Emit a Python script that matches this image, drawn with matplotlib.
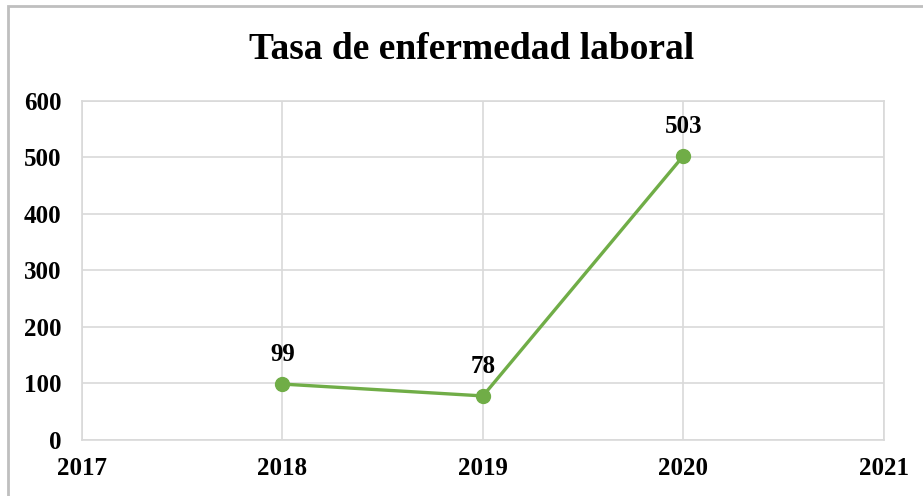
import matplotlib.pyplot as plt
from matplotlib.patches import Rectangle

# ── Data ──────────────────────────────────────────────────────────────────────
years  = [2018, 2019, 2020]
values = [99, 78, 503]
x_ticks = [2017, 2018, 2019, 2020, 2021]
y_ticks = [0, 100, 200, 300, 400, 500, 600]

TITLE = "Tasa de enfermedad laboral"
GREEN = "#70AD47"
GRID  = "#D9D9D9"

plt.rcParams["font.family"] = ["Liberation Serif", "DejaVu Serif"]

fig = plt.figure(figsize=(9.23, 4.96), dpi=100)
ax = fig.add_axes([0.0888, 0.1129, 0.8689, 0.6835])

ax.plot(years, values, color=GREEN, lw=2.4, marker="o", ms=10,
        markerfacecolor=GREEN, markeredgecolor=GREEN, zorder=3)
for x, v in zip(years, values):
    ax.annotate(str(v), (x, v), xytext=(0, 13), textcoords="offset points",
                ha="center", va="bottom", fontsize=18, fontweight="bold")

ax.set_xlim(2017, 2021)
ax.set_ylim(0, 600)
ax.set_xticks(x_ticks)
ax.set_yticks(y_ticks)
ax.tick_params(length=0, labelsize=18)
ax.tick_params(axis="y", pad=15)
ax.tick_params(axis="x", pad=12)
for lab in ax.get_xticklabels() + ax.get_yticklabels():
    lab.set_fontweight("bold")
ax.grid(color=GRID, lw=1.2)
for s in ax.spines.values():
    s.set_color(GRID)
    s.set_linewidth(1.2)
ax.set_axisbelow(True)

fig.text(0.511, 0.900, TITLE, ha="center", va="center",
         fontsize=27, fontweight="bold")

# outer chart border
fig.patches.append(Rectangle((8 / 923, -0.1), 1.2, 1.0 - 6 / 496 + 0.1,
                             transform=fig.transFigure, fill=False,
                             edgecolor="#BFBFBF", lw=2))

fig.savefig("out.png", dpi=100)
